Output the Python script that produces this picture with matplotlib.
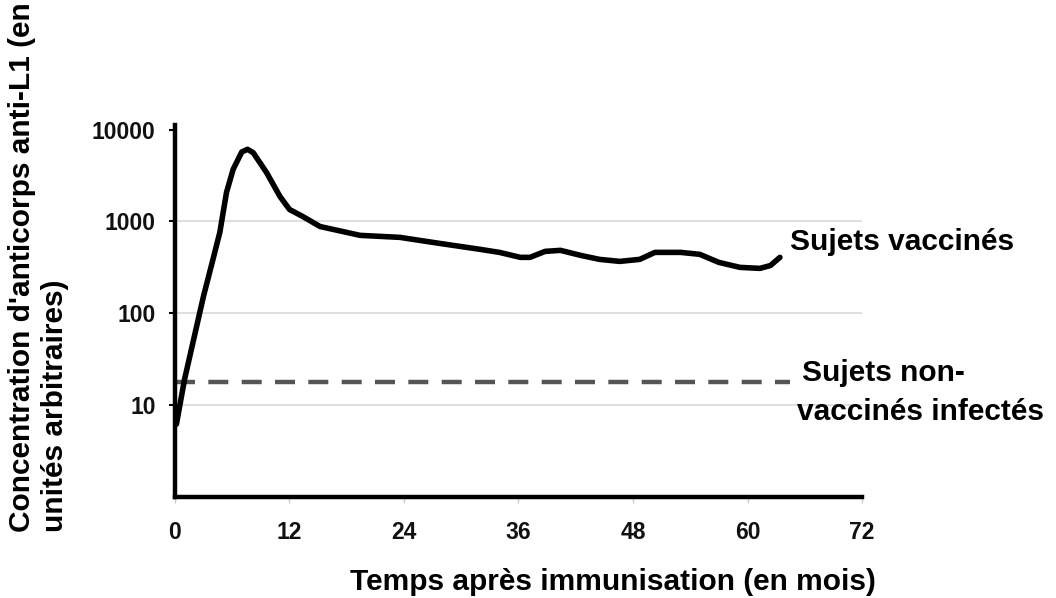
import matplotlib
matplotlib.use("Agg")
import matplotlib.pyplot as plt
from matplotlib.ticker import FixedLocator, NullLocator

# ---- data ----
months = [0.15, 1.0, 3.0, 3.9, 4.7, 5.4, 6.1, 7.0, 7.6, 8.2, 9.6, 11.0, 12.0, 13.4, 15.2,
          19.4, 23.6, 25.7, 27.8, 32.0, 34.0, 36.2, 37.2, 38.8, 40.4, 42.5, 44.5,
          46.6, 48.7, 50.3, 53.0, 55.0, 57.0, 59.2, 61.3, 62.4, 63.4]
vaccines = [6.2, 19, 155, 357, 760, 2070, 3700, 5700, 6100, 5600, 3400, 1870, 1350, 1130, 880,
            705, 670, 620, 575, 496, 460, 406, 406, 472, 484, 427, 386,
            367, 386, 460, 460, 438, 358, 316, 308, 331, 406]
non_vacc_level = 17.9
non_vacc_x = [0, 64.5]
x_ticks = [0, 12, 24, 36, 48, 60, 72]
y_ticks = [10, 100, 1000, 10000]
y_ticklabels = ["10", "100", "1000", "10000"]

plt.rcParams['font.family'] = ['Liberation Sans', 'DejaVu Sans']

fig = plt.figure(figsize=(10.56, 5.98), dpi=100)
ax = fig.add_axes([0.1657, 0.169, 0.8163 - 0.1657, 0.791 - 0.169])

ax.set_yscale('log')
ax.set_ylim(1, 10 ** 4.05)
ax.set_xlim(0, 72)

for v in y_ticks[:-1]:
    ax.axhline(v, color='#d9d9d9', lw=1.2, zorder=1)

ax.plot(non_vacc_x, [non_vacc_level, non_vacc_level], color='#555555', lw=3.2,
        dashes=(4.5, 3.0), zorder=2, solid_capstyle='butt')
ax.plot(months, vaccines, color='black', lw=4.0, zorder=3,
        solid_joinstyle='round', solid_capstyle='round')

ax.yaxis.set_major_locator(FixedLocator(y_ticks))
ax.yaxis.set_minor_locator(NullLocator())
ax.set_yticklabels(y_ticklabels)
ax.set_xticks(x_ticks)
ax.set_xticklabels([str(t) for t in x_ticks])

for lab in ax.get_yticklabels() + ax.get_xticklabels():
    lab.set_fontweight('bold')
    lab.set_fontsize(16.5)
    lab.set_color('#111111')
ax.tick_params(axis='y', length=4, width=1.5, color='black', pad=10)
ax.tick_params(axis='x', length=4, width=1.0, color='#cccccc', pad=13)

for s in ['top', 'right']:
    ax.spines[s].set_visible(False)
for s in ['left', 'bottom']:
    ax.spines[s].set_linewidth(3.2)
    ax.spines[s].set_color('black')

big = 21.5
fig.text(0.58, 1 - 590 / 598, "Temps après immunisation (en mois)", ha='center', va='baseline',
         fontsize=big, fontweight='bold')
fig.text(0.008, 1 - 532 / 598, "Concentration d'anticorps anti-L1 (en\nunités arbitraires)",
         rotation=90, ha='left', va='bottom', multialignment='left',
         fontsize=big, fontweight='bold', linespacing=1.22)

fig.text(790 / 1056, 1 - 242 / 598, "Sujets vaccinés", ha='left', va='center',
         fontsize=big, fontweight='bold')
fig.text(802 / 1056, 1 - 373 / 598, "Sujets non-", ha='left', va='center',
         fontsize=big, fontweight='bold')
fig.text(797 / 1056, 1 - 412 / 598, "vaccinés infectés", ha='left', va='center',
         fontsize=big, fontweight='bold')

fig.savefig("out.png", dpi=100, facecolor='white')
